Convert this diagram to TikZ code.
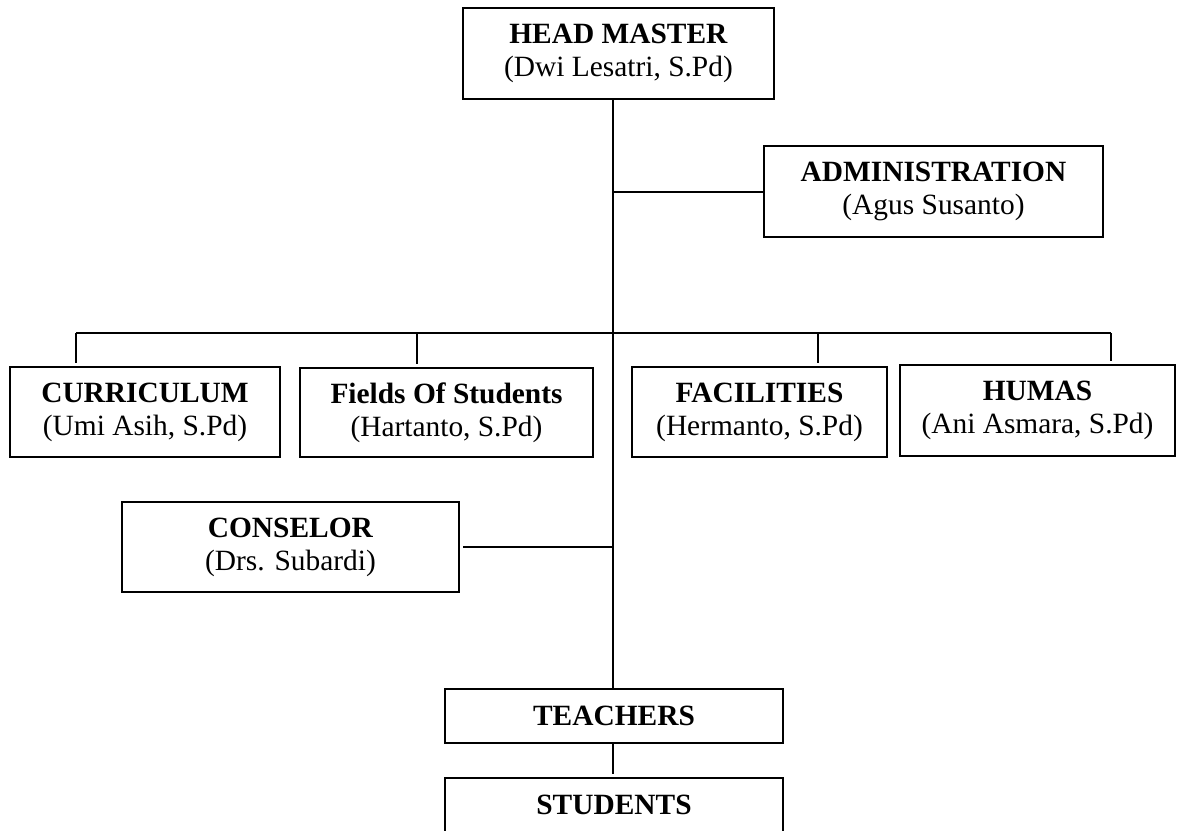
\documentclass[tikz,border=0pt]{standalone}
\usepackage{fontspec}
\setmainfont{Liberation Serif}
\begin{document}
\begin{tikzpicture}[x=0.5pt,y=-0.5pt,
  box/.style={draw,line width=1pt,rectangle,align=center,inner sep=0pt,
    font=\fontsize{14.7}{16.5}\selectfont},
  link/.style={line width=1pt}]
\useasboundingbox (0,0) rectangle (1183,830);
\node[box,minimum width=155.5pt,minimum height=45.5pt] (hm) at (618.5,53.5) {\textbf{HEAD MASTER}\\(Dwi Lesatri, S.Pd)};
\node[box,minimum width=169.5pt,minimum height=45.5pt] (adm) at (933.5,191.5) {\textbf{ADMINISTRATION}\\(Agus Susanto)};
\node[box,minimum width=135pt,minimum height=45pt] (cur) at (145,412) {\textbf{CURRICULUM}\\(Umi Asih, S.Pd)};
\node[box,minimum width=146.5pt,minimum height=44.5pt] (fld) at (446.5,412.5) {\textbf{Fields Of Students}\\(Hartanto, S.Pd)};
\node[box,minimum width=127.5pt,minimum height=45pt] (fac) at (759.5,412) {\textbf{FACILITIES}\\(Hermanto, S.Pd)};
\node[box,minimum width=137.5pt,minimum height=45.5pt] (hum) at (1037.5,410.5) {\textbf{HUMAS}\\(Ani Asmara, S.Pd)};
\node[box,minimum width=168.5pt,minimum height=45pt] (con) at (290.5,547) {\textbf{CONSELOR}\\(Drs. Subardi)};
\node[box,minimum width=169pt,minimum height=27pt] (tea) at (614,716) {\textbf{TEACHERS}};
\node[box,minimum width=169pt,minimum height=27pt] (stu) at (614,805) {\textbf{STUDENTS}};
% trunk
\coordinate (tx) at (613,0);
\coordinate (busl) at (76,333);
\coordinate (busr) at (1111,333);
\draw[link] (hm.south -| tx) -- (tea.north -| tx);
\draw[link] (tx |- adm.west) -- (adm.west);
\draw[link] (con.east) ++(3,0) -- (tx |- con.east);
\draw[link] (busl) -- (busr);
\draw[link,shorten >=1.5pt] (busl) -- (busl |- cur.north);
\draw[link,shorten >=1.5pt] (417,333) coordinate (b2) -- (b2 |- fld.north);
\draw[link,shorten >=1.5pt] (818,333) coordinate (b3) -- (b3 |- fac.north);
\draw[link,shorten >=1.5pt] (busr) -- (busr |- hum.north);
\draw[link,shorten >=1.5pt] (tea.south -| tx) -- (stu.north -| tx);
\end{tikzpicture}
\end{document}
